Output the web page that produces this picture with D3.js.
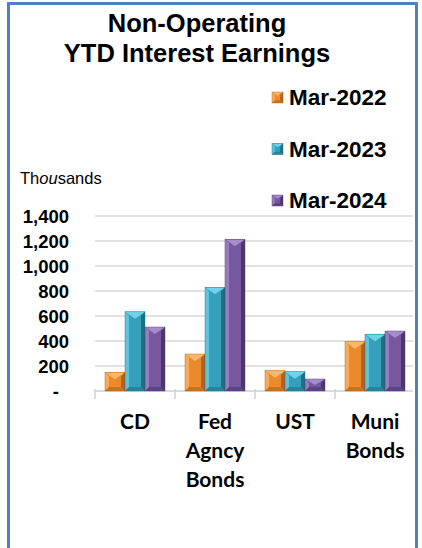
<!DOCTYPE html>
<html><head><meta charset="utf-8">
<script src="https://cdn.jsdelivr.net/npm/d3@7"></script>
<style>html,body{margin:0;padding:0;background:#fff;}svg{display:block;}</style>
</head><body>
<svg id="chart" width="422" height="548"></svg>
<script>
const categories = [["CD"], ["Fed", "Agncy", "Bonds"], ["UST"], ["Muni", "Bonds"]];
const categoryKeys = ["CD", "Fed Agncy Bonds", "UST", "Muni Bonds"];
const seriesNames = ["Mar-2022", "Mar-2023", "Mar-2024"];
const mar2022 = [150, 296, 163, 395];
const mar2023 = [634, 830, 155, 454];
const mar2024 = [512, 1214, 96, 480];
const yTicks = [0, 200, 400, 600, 800, 1000, 1200, 1400];
const seriesValues = [mar2022, mar2023, mar2024];
const palette = [
  {mid:"#e98a2c", light:"#f7ad57", dark:"#b2621a", top:"#f9b968"},
  {mid:"#36a0bb", light:"#5fc3dc", dark:"#1f6f84", top:"#6ed4ec"},
  {mid:"#77589e", light:"#9a7dc0", dark:"#4d3570", top:"#a68ccb"}
];

const svg = d3.select("#chart");
const x0 = d3.scaleBand().domain(categoryKeys).range([95, 415]).padding(0);
const x1 = d3.scaleBand().domain(seriesNames).range([10, 70]).padding(0);
const y = d3.scaleLinear().domain([0, 1400]).range([391, 216]);

// border
svg.append("rect").attr("x", 8.5).attr("y", 3.5).attr("width", 408).attr("height", 580)
  .attr("fill", "none").attr("stroke", "#4f81bd").attr("stroke-width", 3);

// title
const title = svg.append("text").attr("text-anchor", "middle")
  .attr("font-family", "Liberation Sans, Arial, sans-serif").attr("font-weight", "bold")
  .attr("font-size", 25.5).attr("fill", "#000");
title.append("tspan").attr("x", 197).attr("y", 32).text("Non-Operating");
title.append("tspan").attr("x", 197).attr("y", 62).text("YTD Interest Earnings");

// gridlines
svg.append("g").selectAll("line").data(yTicks.filter(d => d > 0)).join("line")
  .attr("x1", 95).attr("x2", 413).attr("y1", d => y(d)).attr("y2", d => y(d))
  .attr("stroke", "#d9d9d9").attr("stroke-width", 1.5);

// y axis labels
const yAxis = d3.axisLeft(y).tickValues(yTicks).tickSize(0).tickPadding(0)
  .tickFormat(d => d === 0 ? "-" : d3.format(",")(d));
const ga = svg.append("g").attr("transform", "translate(69,0)").call(yAxis);
ga.select(".domain").remove();
ga.selectAll("text").attr("font-family", "Liberation Sans, Arial, sans-serif")
  .attr("font-weight", "bold").attr("font-size", 18.5).attr("fill", "#000")
  .attr("dy", "0.35em")
  .attr("x", d => d === 0 ? -10 : 0);

// Thousands label
const th = svg.append("text").attr("x", 20).attr("y", 184)
  .attr("font-family", "Liberation Sans, Arial, sans-serif").attr("font-size", 16.5).attr("fill", "#000");
th.append("tspan").text("Th");
th.append("tspan").attr("font-style", "italic").text("ou");
th.append("tspan").text("sands");

// x axis line + ticks
svg.append("line").attr("x1", 95).attr("x2", 413).attr("y1", y(0)).attr("y2", y(0))
  .attr("stroke", "#d0d0d0").attr("stroke-width", 1.5);
svg.append("g").selectAll("line").data(categoryKeys).join("line")
  .attr("x1", d => x0(d)).attr("x2", d => x0(d)).attr("y1", y(0) - 2).attr("y2", y(0) + 8)
  .attr("stroke", "#d0d0d0").attr("stroke-width", 1.5);

// bevel bar drawing
function bevelBar(g, bx, by, bw, bh, c) {
  const b = Math.min(4, bw / 4, bh / 2);
  const d = Math.min(bw * 0.35, bh / 2);
  const xr = bx + bw, yb = by + bh, cx = bx + bw / 2;
  g.append("rect").attr("x", bx).attr("y", by).attr("width", bw).attr("height", bh).attr("fill", c.mid);
  g.append("polygon").attr("points", [[bx, by], [bx + b, by + b], [bx + b, yb - b], [bx, yb]].join(" ")).attr("fill", c.light);
  g.append("polygon").attr("points", [[xr, by], [xr - b, by + b], [xr - b, yb - b], [xr, yb]].join(" ")).attr("fill", c.dark);
  g.append("polygon").attr("points", [[bx, yb], [bx + b, yb - b], [xr - b, yb - b], [xr, yb]].join(" ")).attr("fill", c.dark).attr("opacity", 0.6);
  g.append("polygon").attr("points", [[bx, by], [xr, by], [cx, by + d]].join(" ")).attr("fill", c.top);
  g.append("rect").attr("x", bx).attr("y", by).attr("width", bw).attr("height", bh)
    .attr("fill", "none").attr("stroke", c.dark).attr("stroke-width", 0.6).attr("opacity", 0.7);
}

const bars = svg.append("g");
categoryKeys.forEach((cat, i) => {
  seriesNames.forEach((s, j) => {
    const v = seriesValues[j][i];
    const bx = x0(cat) + x1(s);
    bevelBar(bars.append("g"), bx, y(v), x1.bandwidth(), y(0) - y(v), palette[j]);
  });
});

// x labels
const xl = svg.append("g");
categories.forEach((lines, i) => {
  const t = xl.append("text").attr("text-anchor", "middle")
    .attr("font-family", "Lato, Carlito, Calibri, sans-serif").attr("font-weight", "bold")
    .attr("font-size", 21).attr("fill", "#000");
  lines.forEach((ln, k) => {
    t.append("tspan").attr("x", x0(categoryKeys[i]) + x0.bandwidth() / 2).attr("y", 429 + k * 29).text(ln);
  });
});

// legend
const lg = svg.append("g");
seriesNames.forEach((s, j) => {
  const ly = 105 + j * 51.5;
  bevelBar(lg.append("g"), 272, ly - 13, 11, 11, palette[j]);
  lg.append("text").attr("x", 289).attr("y", ly)
    .attr("font-family", "Liberation Sans, Arial, sans-serif").attr("font-weight", "bold")
    .attr("font-size", 22.5).attr("fill", "#000").text(s);
});
</script>
</body></html>
